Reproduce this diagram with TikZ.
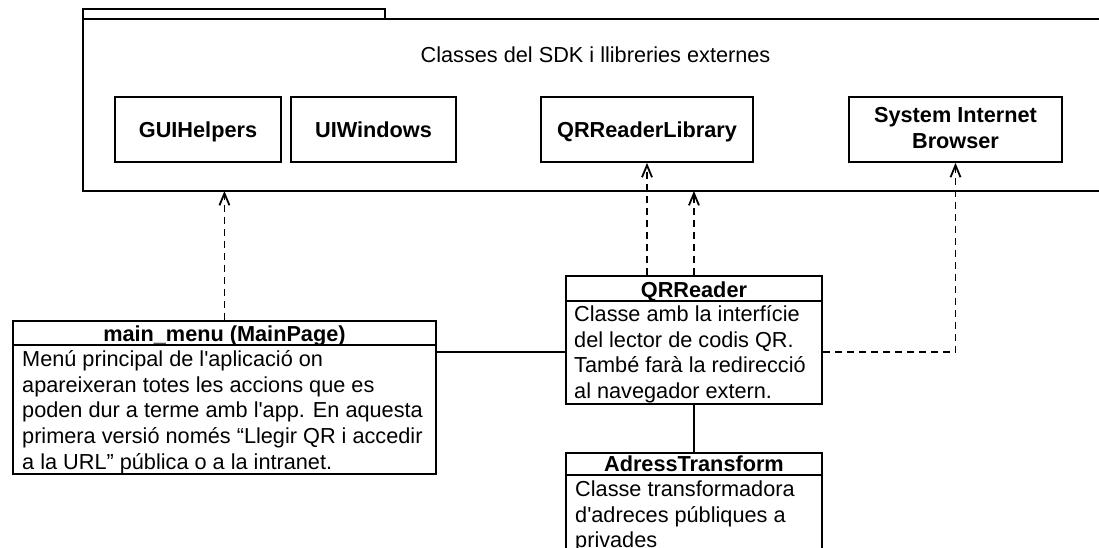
\documentclass[tikz,border=0pt]{standalone}
\usepackage{fontspec}
\setmainfont{Liberation Sans}[Ligatures=TeXOff]
\usetikzlibrary{arrows.meta}
\begin{document}
\begin{tikzpicture}[x=1pt,y=-1pt,
  txt/.style={font=\fontsize{21.7}{25.8}\selectfont, inner sep=0pt},
  bold/.style={font=\fontsize{21.7}{25.8}\selectfont\bfseries, inner sep=0pt},
  pkgline/.style={line width=2pt},
  libbox/.style={draw, line width=1.8pt, inner sep=0pt, minimum height=65pt,
    font=\fontsize{21.7}{25.8}\selectfont\bfseries, text height=15.5pt, text depth=0pt},
  clsbox/.style={draw, line width=1.9pt, inner sep=0pt, anchor=north west},
  sep/.style={line width=1.9pt},
  dep/.style={line width=1.8pt, dash pattern=on 7pt off 5pt,
    -{Straight Barb[length=12pt,width=10pt,line width=1.8pt]}},
  assoc/.style={line width=1.8pt}]

\useasboundingbox (0,0) rectangle (1099,548);

% package frame with its tab
\draw[pkgline] (83,19) rectangle (385,9);
\draw[pkgline] (1099,19) -- (83,19) -- (83,191) -- (1099,191);
\coordinate (sdkfoot) at (83,191);
\node[txt, anchor=base] (sdktitle) at (595.5,62.5) {Classes del SDK i llibreries externes};

% library classes inside the package
\node[libbox, minimum width=166pt] (guih) at (198,129.5) {GUIHelpers};
\node[libbox, minimum width=165pt] (uiwin) at (373.5,129.5) {UIWindows};
\node[libbox, minimum width=212pt] (qrlib) at (647,129.5) {QRReaderLibrary};
\node[libbox, minimum width=213pt] (sib) at (955.5,129.5) {};
\node[bold, align=center, yshift=1.5pt] (sibtext) at (sib.center) {System Internet\\Browser};

% main_menu class
\node[clsbox, minimum width=423pt, minimum height=153pt] (mainmenu) at (12,320) {};
\draw[sep] ([yshift=-25pt]mainmenu.north west) -- ([yshift=-25pt]mainmenu.north east);
\node[bold, anchor=base] (mainmenuhead) at ([yshift=-21pt]mainmenu.north) {main\_menu (MainPage)};
\node[txt, anchor=north west, align=left] (mainmenubody) at ([xshift=10pt,yshift=-28pt]mainmenu.north west)
  {\strut Menú principal de l'aplicació on\\
   apareixeran totes les accions que es\\
   poden dur a terme amb l'app. En aquesta\\
   primera versió només “Llegir QR i accedir\\
   a la URL” pública o a la intranet.};

% QRReader class
\node[clsbox, minimum width=256pt, minimum height=128pt] (qrreader) at (565,275) {};
\draw[sep] ([yshift=-26pt]qrreader.north west) -- ([yshift=-26pt]qrreader.north east);
\node[bold, anchor=base] (qrreaderhead) at ([yshift=-22pt]qrreader.north) {QRReader};
\node[txt, anchor=north west, align=left] (qrreaderbody) at ([xshift=9pt,yshift=-28pt]qrreader.north west)
  {\strut Classe amb la interfície\\
   del lector de codis QR.\\
   També farà la redirecció\\
   al navegador extern.};

% AdressTransform class
\node[clsbox, minimum width=256pt, minimum height=120pt] (adress) at (565,452) {};
\draw[sep] ([yshift=-23pt]adress.north west) -- ([yshift=-23pt]adress.north east);
\node[bold, anchor=base] (adresshead) at ([yshift=-19pt]adress.north) {AdressTransform};
\node[txt, anchor=north west, align=left] (adressbody) at ([xshift=10pt,yshift=-26pt]adress.north west)
  {\strut Classe transformadora\\
   d'adreces públiques a\\
   privades};

% dependencies
\draw[dep] (mainmenu.north) -- (mainmenu.north |- sdkfoot);
\draw[dep] (qrreader.north -| qrlib.south) -- (qrlib.south);
\draw[dep] (qrreader.north) -- (qrreader.north |- sdkfoot);
\draw[dep] ([yshift=-77pt]qrreader.north east) -| (sib.south);

% associations
\draw[assoc] ([yshift=-77pt]qrreader.north west) coordinate (qrw) -- (qrw -| mainmenu.east);
\draw[assoc] (qrreader.south) -- (adress.north);
\end{tikzpicture}
\end{document}
